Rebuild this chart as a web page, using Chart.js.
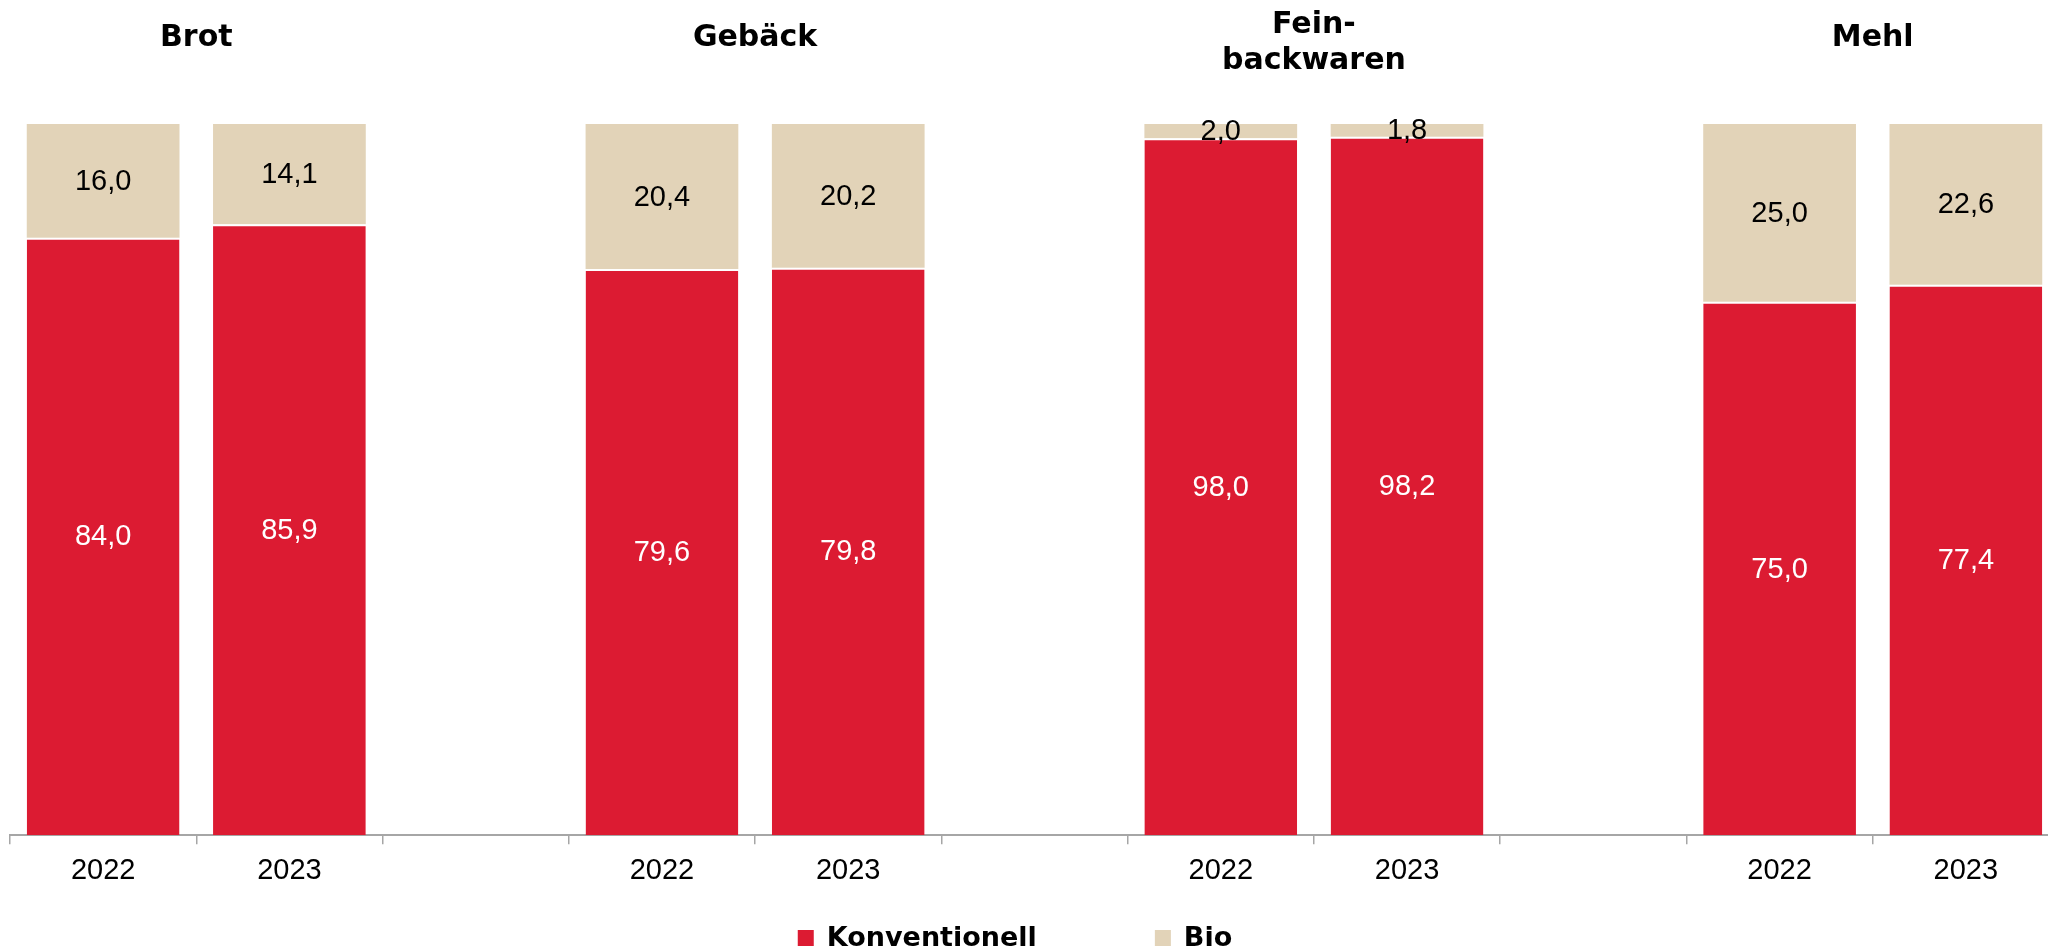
<!DOCTYPE html>
<html>
<head>
<meta charset="utf-8">
<script src="https://cdn.jsdelivr.net/npm/chart.js@4.4.1/dist/chart.umd.min.js"></script>
<style>
  html, body { margin: 0; padding: 0; background: #fff; overflow: hidden; }
  /* the original chart runs a few pixels past the right edge of the picture */
  #wrap { width: 2059px; height: 949px; }
</style>
</head>
<body>
<div id="wrap"><canvas id="myChart"></canvas></div>
<script>
// data
var years = ['2022', '2023', '', '2022', '2023', '', '2022', '2023', '', '2022', '2023'];
var groupTitles = [['Brot'], ['Gebäck'], ['Fein-', 'backwaren'], ['Mehl']];
var konventionell = [84.0, 85.9, null, 79.6, 79.8, null, 98.0, 98.2, null, 75.0, 77.4];
var bio = [16.0, 14.1, null, 20.4, 20.2, null, 2.0, 1.8, null, 25.0, 22.6];

var RED = '#DC1B32';
var BEIGE = '#E2D3B8';
var GREY = '#A6A6A6';

function fmt(v) {
    return v.toFixed(1).replace('.', ',');
}

// labels inside the bar segments, titles above groups, legend at the bottom
var extras = {
    id: 'extras',
    afterDatasetsDraw: function(chart) {
        var ctx = chart.ctx;
        ctx.save();
        ctx.font = '29px "Liberation Sans", Arial, sans-serif';
        ctx.textAlign = 'center';
        ctx.textBaseline = 'middle';
        chart.data.datasets.forEach(function(ds, di) {
            var meta = chart.getDatasetMeta(di);
            meta.data.forEach(function(bar, i) {
                var v = ds.data[i];
                if (v === null || v === undefined) return;
                ctx.fillStyle = di === 0 ? '#ffffff' : '#000000';
                ctx.fillText(fmt(v), bar.x, (bar.y + bar.base) / 2 + 1);
            });
        });

        // group titles
        var x = chart.scales.x;
        ctx.fillStyle = '#000';
        ctx.font = 'bold 30px "DejaVu Sans", sans-serif';
        ctx.textBaseline = 'alphabetic';
        groupTitles.forEach(function(lines, g) {
            var i = g * 3;
            var cx = (x.getPixelForValue(i) + x.getPixelForValue(i + 1)) / 2;
            if (lines.length === 1) {
                ctx.fillText(lines[0], cx, 46);
            } else {
                ctx.fillText(lines[0], cx, 33);
                ctx.fillText(lines[1], cx, 69);
            }
        });

        // legend
        ctx.font = 'bold 27px "DejaVu Sans", sans-serif';
        ctx.textAlign = 'left';
        var items = chart.data.datasets.map(function(ds) {
            return { text: ds.label, color: ds.backgroundColor, w: ctx.measureText(ds.label).width };
        });
        var box = 16, gapText = 13, gapItem = 118;
        var total = 0;
        items.forEach(function(it, k) {
            total += box + gapText + it.w + (k < items.length - 1 ? gapItem : 0);
        });
        var lx = 1015 - total / 2;
        var base = 946;
        items.forEach(function(it) {
            ctx.fillStyle = it.color;
            ctx.fillRect(lx, base - 16, box, 16);
            lx += box + gapText;
            ctx.fillStyle = '#000';
            ctx.fillText(it.text, lx, base);
            lx += it.w + gapItem;
        });
        ctx.restore();
    }
};

var ctx = document.getElementById('myChart').getContext('2d');
var myChart = new Chart(ctx, {
    type: 'bar',
    data: {
        labels: years,
        datasets: [{
            label: 'Konventionell',
            data: konventionell,
            backgroundColor: RED,
            borderColor: '#ffffff',
            borderWidth: { top: 2, left: 0, right: 0, bottom: 0 },
            borderSkipped: false,
            barPercentage: 0.82,
            categoryPercentage: 1.0
        }, {
            label: 'Bio',
            data: bio,
            backgroundColor: BEIGE,
            borderWidth: 0,
            barPercentage: 0.82,
            categoryPercentage: 1.0
        }]
    },
    options: {
        responsive: true,
        maintainAspectRatio: false,
        animation: false,
        layout: {
            padding: { top: 124, left: 10, right: 0, bottom: 52 }
        },
        plugins: {
            legend: { display: false },
            tooltip: { enabled: false }
        },
        scales: {
            x: {
                stacked: true,
                offset: true,
                grid: {
                    offset: true,
                    drawOnChartArea: false,
                    drawTicks: true,
                    tickLength: 9,
                    color: GREY,
                    lineWidth: 1.5
                },
                border: { display: true, color: GREY, width: 2 },
                ticks: {
                    color: '#000',
                    padding: 9,
                    maxRotation: 0,
                    autoSkip: false,
                    font: { family: '"Liberation Sans", Arial, sans-serif', size: 29 }
                }
            },
            y: {
                stacked: true,
                display: false,
                min: 0,
                max: 100
            }
        }
    },
    plugins: [extras]
});
</script>
</body>
</html>
